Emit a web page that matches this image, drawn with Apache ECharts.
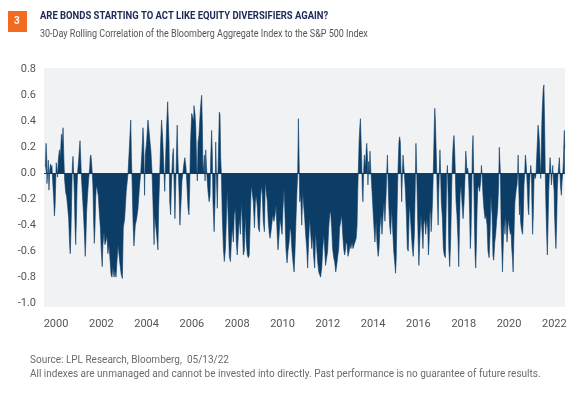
<!DOCTYPE html>
<html lang="en">
  <head>
    <meta charset="UTF-8" />
    <title>Bonds vs Equity Correlation</title>
    <script src="https://cdn.jsdelivr.net/npm/echarts@6/dist/echarts.min.js"></script>
    <style>
      html, body { margin: 0; padding: 0; background: #fff; }
    </style>
  </head>
  <body>
    <div id="chart" style="width: 579px; height: 399px"></div>
    <script>
      const xTicks = [2000, 2002, 2004, 2006, 2008, 2010, 2012, 2014, 2016, 2018, 2020, 2022];
      const yTicks = [-1.0, -0.8, -0.6, -0.4, -0.2, 0.0, 0.2, 0.4, 0.6, 0.8];

      // [decimal year, 30-day rolling correlation]
      const corr1999to2002 = [
        [1999.53, 0.05], [1999.56, 0.23], [1999.59, 0.12], [1999.60, -0.08], [1999.63, 0.0],
        [1999.66, 0.10], [1999.69, -0.13], [1999.72, 0.02], [1999.76, 0.07], [1999.79, 0.04],
        [1999.82, 0.06], [1999.85, -0.05], [1999.90, -0.2], [1999.93, -0.33], [1999.96, -0.25],
        [1999.99, -0.05], [2000.01, 0.08], [2000.04, 0.04], [2000.07, -0.03], [2000.10, 0.1],
        [2000.15, 0.18], [2000.19, 0.12], [2000.24, 0.3], [2000.28, 0.22], [2000.31, 0.35],
        [2000.35, 0.1], [2000.38, -0.05], [2000.43, -0.15], [2000.47, -0.18], [2000.51, -0.25],
        [2000.56, -0.35], [2000.60, -0.55], [2000.63, -0.62], [2000.66, -0.45], [2000.69, -0.2],
        [2000.72, 0.05], [2000.75, 0.13], [2000.78, 0.0], [2000.81, -0.15], [2000.84, -0.4],
        [2000.87, -0.55], [2000.90, -0.35], [2000.93, -0.1], [2000.96, 0.02], [2001.00, 0.1],
        [2001.03, 0.18], [2001.06, 0.25], [2001.09, 0.12], [2001.12, -0.02], [2001.16, -0.15],
        [2001.21, -0.3], [2001.25, -0.45], [2001.29, -0.64], [2001.32, -0.5], [2001.35, -0.3],
        [2001.40, -0.15], [2001.44, -0.05], [2001.49, 0.05], [2001.51, 0.12], [2001.54, 0.14],
        [2001.57, 0.08], [2001.60, 0.0], [2001.63, -0.1], [2001.66, -0.35], [2001.69, -0.54],
        [2001.72, -0.42], [2001.75, -0.2], [2001.78, -0.1], [2001.82, -0.12], [2001.87, -0.18],
        [2001.91, -0.3], [2001.96, -0.42], [2002.00, -0.6], [2002.04, -0.72], [2002.07, -0.55],
        [2002.12, -0.45], [2002.16, -0.55], [2002.21, -0.52], [2002.25, -0.48], [2002.29, -0.62],
        [2002.34, -0.55], [2002.38, -0.65], [2002.43, -0.78], [2002.47, -0.8], [2002.51, -0.72],
        [2002.56, -0.8], [2002.60, -0.75], [2002.65, -0.8], [2002.69, -0.68]
      ];
      const corr2002to2006 = [
        [2002.74, -0.55], [2002.81, -0.68], [2002.88, -0.78], [2002.93, -0.81], [2002.97, -0.42],
        [2003.03, -0.35], [2003.10, -0.14], [2003.18, 0.0], [2003.25, 0.24], [2003.30, 0.41],
        [2003.33, 0.12], [2003.35, 0.0], [2003.40, -0.37], [2003.44, -0.56], [2003.50, -0.4],
        [2003.56, -0.35], [2003.62, -0.27], [2003.69, -0.09], [2003.74, 0.0], [2003.80, 0.19],
        [2003.84, 0.35], [2003.87, 0.24], [2003.91, -0.17], [2003.94, 0.14], [2004.00, 0.24],
        [2004.06, 0.41], [2004.11, 0.32], [2004.15, 0.24], [2004.19, 0.17], [2004.24, 0.0],
        [2004.28, -0.22], [2004.33, -0.55], [2004.35, -0.32], [2004.40, -0.32], [2004.44, -0.47],
        [2004.50, -0.59], [2004.53, -0.27], [2004.58, 0.0], [2004.62, 0.24], [2004.66, 0.41],
        [2004.71, 0.27], [2004.75, 0.09], [2004.80, -0.14], [2004.84, 0.12], [2004.88, 0.35],
        [2004.93, 0.55], [2004.96, 0.56], [2004.99, 0.24], [2005.02, -0.22], [2005.06, -0.32],
        [2005.10, -0.06], [2005.15, 0.14], [2005.18, 0.19], [2005.21, -0.06], [2005.25, -0.35],
        [2005.30, 0.0], [2005.33, 0.24], [2005.35, 0.37], [2005.38, 0.12], [2005.43, -0.14],
        [2005.47, -0.40], [2005.52, -0.22], [2005.56, -0.06], [2005.60, 0.0], [2005.65, 0.08],
        [2005.69, 0.12], [2005.74, 0.04], [2005.78, -0.09], [2005.83, -0.27], [2005.87, -0.32],
        [2005.90, -0.12], [2005.94, 0.24], [2005.99, 0.46], [2006.03, 0.47], [2006.08, 0.40]
      ];
      const corr2006to2009 = [
        [2006.09, 0.52], [2006.14, 0.45], [2006.17, 0.35], [2006.21, 0.06], [2006.24, -0.06],
        [2006.27, 0.24], [2006.31, 0.29], [2006.36, 0.45], [2006.40, 0.55], [2006.43, 0.60],
        [2006.46, 0.37], [2006.49, 0.0], [2006.52, 0.06], [2006.55, 0.14], [2006.58, -0.06],
        [2006.61, 0.18], [2006.64, 0.06], [2006.67, -0.04], [2006.71, -0.14], [2006.76, -0.22],
        [2006.80, -0.17], [2006.83, 0.12], [2006.87, 0.33], [2006.90, 0.14], [2006.93, -0.22],
        [2006.98, -0.45], [2007.02, -0.22], [2007.05, 0.24], [2007.08, 0.0], [2007.12, -0.27],
        [2007.15, 0.0], [2007.18, 0.24], [2007.21, 0.47], [2007.24, 0.45], [2007.27, 0.12],
        [2007.30, 0.0], [2007.34, -0.32], [2007.39, -0.58], [2007.43, -0.68], [2007.48, -0.58],
        [2007.52, -0.35], [2007.56, -0.12], [2007.61, -0.40], [2007.65, -0.64], [2007.70, -0.68],
        [2007.74, -0.53], [2007.78, -0.42], [2007.83, -0.53], [2007.87, -0.32], [2007.92, -0.27],
        [2007.96, -0.53], [2008.00, -0.63], [2008.05, -0.47], [2008.09, -0.35], [2008.14, -0.47],
        [2008.18, -0.22], [2008.23, -0.40], [2008.27, -0.63], [2008.31, -0.60], [2008.36, -0.32],
        [2008.40, -0.53], [2008.45, -0.63], [2008.49, -0.65], [2008.53, -0.63], [2008.58, -0.32],
        [2008.62, -0.09], [2008.67, -0.09], [2008.71, -0.22], [2008.76, -0.42], [2008.80, -0.22],
        [2008.84, -0.17], [2008.89, -0.27], [2008.93, -0.42], [2008.98, -0.45], [2009.02, -0.24],
        [2009.06, -0.09], [2009.11, -0.17], [2009.15, -0.37], [2009.20, -0.45], [2009.24, -0.06],
        [2009.28, -0.14], [2009.33, -0.22], [2009.37, -0.37], [2009.42, -0.47]
      ];
      const corr2009to2012 = [
        [2009.45, -0.5], [2009.49, -0.45], [2009.57, -0.32], [2009.62, -0.37], [2009.67, -0.32],
        [2009.71, -0.24], [2009.76, -0.45], [2009.80, -0.59], [2009.85, -0.47], [2009.89, -0.35],
        [2009.93, -0.40], [2009.98, -0.47], [2010.02, -0.27], [2010.07, -0.12], [2010.11, -0.32],
        [2010.15, -0.58], [2010.20, -0.69], [2010.24, -0.60], [2010.29, -0.53], [2010.33, -0.42],
        [2010.37, -0.45], [2010.42, -0.60], [2010.46, -0.68], [2010.51, -0.76], [2010.55, -0.60],
        [2010.60, -0.32], [2010.64, -0.12], [2010.67, 0.0], [2010.70, 0.42], [2010.73, 0.12],
        [2010.76, -0.22], [2010.80, -0.17], [2010.85, -0.40], [2010.89, -0.14], [2010.93, -0.24],
        [2010.98, -0.35], [2011.02, -0.47], [2011.07, -0.58], [2011.11, -0.73], [2011.15, -0.53],
        [2011.20, -0.35], [2011.24, -0.45], [2011.29, -0.58], [2011.33, -0.47], [2011.37, -0.63],
        [2011.42, -0.73], [2011.46, -0.45], [2011.51, -0.58], [2011.55, -0.68], [2011.60, -0.76],
        [2011.64, -0.77], [2011.68, -0.80], [2011.73, -0.73], [2011.77, -0.60], [2011.82, -0.47],
        [2011.86, -0.58], [2011.90, -0.71], [2011.95, -0.71], [2011.99, -0.60], [2012.04, -0.42],
        [2012.08, -0.32], [2012.12, -0.29], [2012.17, -0.42], [2012.21, -0.58], [2012.26, -0.65],
        [2012.30, -0.68], [2012.35, -0.76], [2012.39, -0.71], [2012.43, -0.65], [2012.48, -0.58],
        [2012.52, -0.42], [2012.57, -0.37], [2012.61, -0.32], [2012.65, -0.45], [2012.70, -0.58],
        [2012.74, -0.63], [2012.79, -0.58]
      ];
      const corr2012to2016 = [
        [2012.80, -0.53], [2012.85, -0.55], [2012.89, -0.64], [2012.94, -0.60], [2012.98, -0.55],
        [2013.02, -0.58], [2013.07, -0.53], [2013.11, -0.58], [2013.16, -0.55], [2013.20, -0.53],
        [2013.25, -0.50], [2013.29, -0.40], [2013.32, -0.14], [2013.35, 0.04], [2013.38, 0.24],
        [2013.41, 0.35], [2013.44, 0.42], [2013.47, 0.24], [2013.50, 0.06], [2013.52, -0.12],
        [2013.55, -0.22], [2013.58, 0.0], [2013.61, 0.14], [2013.66, 0.04], [2013.69, 0.17],
        [2013.72, 0.23], [2013.75, 0.12], [2013.77, -0.09], [2013.80, 0.09], [2013.83, -0.01],
        [2013.86, 0.17], [2013.89, 0.04], [2013.92, -0.04], [2013.95, -0.14], [2013.99, -0.27],
        [2014.04, -0.42], [2014.08, -0.53], [2014.13, -0.37], [2014.17, -0.53], [2014.22, -0.64],
        [2014.26, -0.58], [2014.30, -0.42], [2014.35, -0.32], [2014.39, -0.47], [2014.44, -0.32],
        [2014.48, -0.22], [2014.52, -0.37], [2014.57, -0.17], [2014.60, 0.0], [2014.63, 0.14],
        [2014.66, -0.06], [2014.69, -0.24], [2014.73, -0.40], [2014.77, -0.47], [2014.82, -0.27],
        [2014.86, -0.42], [2014.91, -0.60], [2014.95, -0.68], [2014.99, -0.77], [2015.02, -0.65],
        [2015.05, -0.35], [2015.08, -0.09], [2015.11, 0.09], [2015.14, 0.24], [2015.17, 0.28],
        [2015.20, 0.24], [2015.23, 0.01], [2015.26, -0.22], [2015.29, -0.01], [2015.32, 0.14],
        [2015.35, 0.06], [2015.38, -0.01], [2015.42, -0.12], [2015.47, -0.32], [2015.51, -0.58],
        [2015.55, -0.60], [2015.60, -0.24], [2015.64, -0.32], [2015.69, -0.47], [2015.73, -0.58],
        [2015.77, -0.64], [2015.82, -0.47], [2015.86, -0.09], [2015.89, 0.23], [2015.92, 0.04],
        [2015.95, -0.22], [2015.99, -0.53], [2016.02, -0.71], [2016.07, -0.47], [2016.11, -0.32]
      ];
      const corr2016to2019 = [
        [2016.16, -0.45], [2016.20, -0.58], [2016.23, -0.40], [2016.28, -0.35], [2016.32, -0.47],
        [2016.37, -0.35], [2016.41, -0.42], [2016.44, -0.63], [2016.47, -0.53], [2016.50, -0.32],
        [2016.53, -0.27], [2016.56, -0.45], [2016.59, -0.35], [2016.62, -0.22], [2016.64, -0.09],
        [2016.67, 0.12], [2016.70, 0.37], [2016.72, 0.50], [2016.75, 0.40], [2016.78, 0.19],
        [2016.81, -0.01], [2016.84, -0.22], [2016.87, -0.40], [2016.89, -0.17], [2016.92, -0.01],
        [2016.95, 0.18], [2016.98, -0.01], [2017.01, -0.22], [2017.06, -0.35], [2017.10, -0.58],
        [2017.14, -0.63], [2017.19, -0.65], [2017.22, -0.32], [2017.25, -0.01], [2017.28, 0.06],
        [2017.31, -0.17], [2017.34, -0.58], [2017.38, -0.72], [2017.42, -0.53], [2017.45, -0.27],
        [2017.48, -0.01], [2017.51, 0.14], [2017.54, 0.24], [2017.57, 0.29], [2017.60, 0.17],
        [2017.63, -0.01], [2017.66, -0.22], [2017.70, -0.32], [2017.75, -0.53], [2017.78, -0.72],
        [2017.81, -0.42], [2017.84, -0.17], [2017.88, -0.09], [2017.92, -0.22], [2017.97, -0.35],
        [2018.01, -0.24], [2018.06, -0.01], [2018.09, 0.17], [2018.12, 0.09], [2018.14, 0.01],
        [2018.17, 0.04], [2018.20, 0.0], [2018.23, -0.12], [2018.26, -0.32], [2018.29, -0.58],
        [2018.32, -0.47], [2018.35, -0.17], [2018.38, 0.17], [2018.41, 0.29], [2018.44, -0.01],
        [2018.47, -0.35], [2018.50, -0.63], [2018.53, -0.73], [2018.56, -0.53], [2018.59, -0.27],
        [2018.62, -0.12], [2018.66, -0.09], [2018.70, -0.14], [2018.75, -0.06], [2018.78, 0.06],
        [2018.81, -0.01], [2018.85, -0.17], [2018.89, -0.27], [2018.94, -0.35], [2018.98, -0.32],
        [2019.03, -0.40], [2019.07, -0.60], [2019.12, -0.65], [2019.16, -0.47], [2019.20, -0.17],
        [2019.25, -0.32], [2019.29, -0.63], [2019.32, -0.67], [2019.37, -0.53], [2019.41, -0.47],
        [2019.45, -0.37], [2019.50, -0.27]
      ];
      const corr2019to2022 = [
        [2019.54, -0.09], [2019.57, 0.20], [2019.60, 0.19], [2019.62, -0.01], [2019.65, -0.40],
        [2019.68, -0.58], [2019.71, -0.76], [2019.74, -0.58], [2019.76, -0.45], [2019.79, -0.35],
        [2019.82, -0.47], [2019.85, -0.32], [2019.88, -0.40], [2019.91, -0.53], [2019.94, -0.45],
        [2019.97, -0.35], [2020.00, -0.40], [2020.03, -0.40], [2020.06, -0.47], [2020.09, -0.45],
        [2020.12, -0.58], [2020.15, -0.65], [2020.18, -0.76], [2020.21, -0.53], [2020.24, -0.32],
        [2020.26, -0.22], [2020.29, -0.17], [2020.32, -0.12], [2020.35, -0.09], [2020.38, -0.01],
        [2020.40, 0.14], [2020.43, -0.12], [2020.46, -0.32], [2020.49, -0.22], [2020.51, -0.37],
        [2020.54, -0.42], [2020.57, -0.45], [2020.60, -0.47], [2020.63, -0.32], [2020.66, -0.09],
        [2020.69, -0.01], [2020.72, 0.14], [2020.75, 0.09], [2020.78, -0.01], [2020.81, -0.12],
        [2020.84, -0.27], [2020.87, -0.32], [2020.90, -0.09], [2020.93, -0.01], [2020.96, 0.06],
        [2020.99, -0.01], [2021.01, -0.22], [2021.04, -0.47], [2021.07, -0.32], [2021.10, -0.06],
        [2021.13, -0.01], [2021.16, -0.04], [2021.19, -0.01], [2021.22, 0.12], [2021.25, 0.24],
        [2021.28, 0.37], [2021.31, 0.32], [2021.34, 0.24], [2021.37, 0.09], [2021.40, -0.04],
        [2021.43, 0.24], [2021.46, 0.47], [2021.49, 0.58], [2021.51, 0.65], [2021.54, 0.68],
        [2021.57, 0.37], [2021.60, -0.01], [2021.63, -0.27], [2021.66, -0.47], [2021.69, -0.63],
        [2021.72, -0.40], [2021.75, -0.14], [2021.78, -0.01], [2021.81, 0.12], [2021.84, 0.04],
        [2021.87, -0.09], [2021.90, -0.01], [2021.93, 0.06], [2021.96, -0.06], [2021.99, -0.14],
        [2022.01, -0.32], [2022.04, -0.47], [2022.07, -0.58], [2022.10, -0.40], [2022.13, -0.12],
        [2022.16, -0.01], [2022.19, 0.05], [2022.22, 0.12], [2022.25, -0.01], [2022.28, -0.12],
        [2022.31, -0.17], [2022.34, -0.06], [2022.37, -0.01], [2022.40, 0.09], [2022.43, 0.29],
        [2022.44, 0.33], [2022.46, 0.19]
      ];

      const corrData = [].concat(
        corr1999to2002, corr2002to2006, corr2006to2009, corr2009to2012,
        corr2012to2016, corr2016to2019, corr2019to2022
      );

      const navy = '#0b3d66';
      const fontFamily = 'Roboto, "Noto Sans", sans-serif';

      let myChart = echarts.init(document.getElementById('chart'), null, { renderer: 'canvas' });

      let option = {
        animation: false,
        backgroundColor: '#ffffff',
        grid: {
          left: 44,
          right: 14,
          top: 68,
          bottom: 92,
          show: true,
          backgroundColor: '#f1f2f4',
          borderWidth: 0,
        },
        graphic: [
          {
            type: 'rect',
            left: 8,
            top: 11,
            shape: { width: 19, height: 21 },
            style: { fill: '#f26b21' },
          },
          {
            type: 'text',
            left: 14,
            top: 16,
            style: { text: '3', fill: '#ffffff', font: 'bold 10px ' + fontFamily },
          },
          {
            // the source font is a condensed face, so the text is squeezed a little
            type: 'text',
            x: 40,
            y: 11,
            scaleX: 0.9,
            style: {
              text: 'ARE BONDS STARTING TO ACT LIKE EQUITY DIVERSIFIERS AGAIN?',
              fill: '#1d2856',
              font: 'bold 10.5px ' + fontFamily,
            },
          },
          {
            type: 'text',
            x: 40,
            y: 29,
            scaleX: 0.9,
            style: {
              text: '30-Day Rolling Correlation of the Bloomberg Aggregate Index to the S&P 500 Index',
              fill: '#555555',
              font: '10px ' + fontFamily,
            },
          },
          {
            type: 'text',
            left: 30,
            top: 355,
            style: {
              text: 'Source: LPL Research, Bloomberg,  05/13/22',
              fill: '#6b6b6b',
              font: '10px ' + fontFamily,
            },
          },
          {
            type: 'text',
            left: 30,
            top: 369,
            style: {
              text: 'All indexes are unmanaged and cannot be invested into directly. Past performance is no guarantee of future results.',
              fill: '#6b6b6b',
              font: '10px ' + fontFamily,
            },
          },
        ],
        xAxis: {
          type: 'value',
          min: 1999.47,
          max: 2022.47,
          axisLine: { show: false },
          axisTick: { show: false },
          splitLine: { show: false },
          axisLabel: {
            customValues: xTicks,
            formatter: (v) => String(Math.round(v)),
            color: '#555555',
            fontSize: 11,
            fontFamily: fontFamily,
            margin: 12,
          },
        },
        yAxis: {
          type: 'value',
          min: -1.03,
          max: 0.81,
          axisLine: { show: false },
          axisTick: { show: false },
          splitLine: { show: false },
          axisLabel: {
            customValues: yTicks,
            formatter: (v) => v.toFixed(1),
            color: '#555555',
            fontSize: 11,
            fontFamily: fontFamily,
            margin: 8,
          },
        },
        series: [
          {
            type: 'line',
            data: corrData,
            showSymbol: false,
            symbol: 'none',
            sampling: 'none',
            lineStyle: { color: navy, width: 0.6 },
            areaStyle: { color: navy, opacity: 1, origin: 0 },
            markLine: {
              silent: true,
              symbol: 'none',
              label: { show: false },
              lineStyle: { color: navy, width: 1.2, type: 'solid' },
              data: [{ yAxis: 0 }],
            },
          },
        ],
      };

      myChart.setOption(option);
    </script>
  </body>
</html>
